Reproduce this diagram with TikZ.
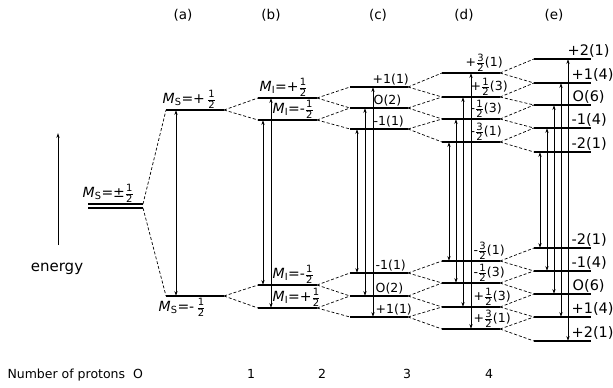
\documentclass[tikz,border=0pt]{standalone}
\usepackage{amsmath}
\usepackage{fontspec}
\setmainfont{DejaVu Sans}
\usetikzlibrary{arrows.meta}
\newcommand\hfr[1]{$\genfrac{}{}{0.4pt}{}{\text{\fontsize{10}{10}\selectfont #1}}{\text{\fontsize{10}{10}\selectfont 2}}$}
\newcommand\MSx[1]{\textit{M}$_{\text{S}}$=#1}
\newcommand\MIx[1]{\textit{M}$_{\text{I}}$=#1}
\newcommand\lev[4]{\coordinate (#1L) at (#2,#4); \coordinate (#1R) at (#3,#4); \draw[level] (#1L) -- (#1R);}
\tikzset{
  level/.style={line width=1.2pt},
  conn/.style={dash pattern=on 3pt off 2pt, line width=0.7pt},
  trans/.style={line width=0.8pt, {Stealth[length=5pt,width=3.2pt]}-{Stealth[length=5pt,width=3.2pt]}},
  lab/.style={anchor=south west, inner sep=0.5pt, font=\fontsize{12.5}{12.5}\selectfont},
  labm/.style={anchor=south west, inner sep=0.5pt, font=\fontsize{14}{14}\selectfont},
  labe/.style={anchor=south west, inner sep=0.5pt, font=\fontsize{14.5}{14.5}\selectfont},
  head/.style={font=\fontsize{13.5}{13.5}\selectfont},
  bottom/.style={anchor=base, font=\fontsize{12.5}{12.5}\selectfont}
}
\begin{document}
\begin{tikzpicture}[x=1pt,y=-1pt]
\useasboundingbox (0,0) rectangle (613,388);
% levels
\lev{a0a}{88}{143}{204}
\lev{a0b}{88}{143}{208}
\lev{aU}{166}{224}{110}
\lev{aD}{166}{224}{296}
\lev{bU1}{258}{317}{98}
\lev{bU2}{258}{317}{120}
\lev{bD1}{258}{317}{285}
\lev{bD2}{258}{317}{308}
\lev{cU1}{350}{408}{87}
\lev{cU2}{350}{408}{108}
\lev{cU3}{350}{408}{129}
\lev{cD1}{350}{408}{273}
\lev{cD2}{350}{408}{296}
\lev{cD3}{350}{408}{317}
\lev{dU1}{442}{500}{73}
\lev{dU2}{442}{500}{97}
\lev{dU3}{442}{500}{119}
\lev{dU4}{442}{500}{142}
\lev{dD1}{442}{500}{261}
\lev{dD2}{442}{500}{283}
\lev{dD3}{442}{500}{307}
\lev{dD4}{442}{500}{329}
\lev{eU1}{534}{591}{59}
\lev{eU2}{534}{591}{83}
\lev{eU3}{534}{591}{105}
\lev{eU4}{534}{591}{128}
\lev{eU5}{534}{591}{152}
\lev{eD1}{534}{591}{248}
\lev{eD2}{534}{591}{271}
\lev{eD3}{534}{591}{294}
\lev{eD4}{534}{591}{317}
\lev{eD5}{534}{591}{341}
% dashed connectors
\draw[conn] (a0aR) -- (aUL);
\draw[conn] (a0bR) -- (aDL);
\draw[conn] (aUR) -- (bU1L); \draw[conn] (aUR) -- (bU2L);
\draw[conn] (aDR) -- (bD1L); \draw[conn] (aDR) -- (bD2L);
\foreach \k [evaluate=\k as \m using int(\k+1)] in {1,2} {
  \draw[conn] (bU\k R) -- (cU\k L); \draw[conn] (bU\k R) -- (cU\m L);
  \draw[conn] (bD\k R) -- (cD\k L); \draw[conn] (bD\k R) -- (cD\m L);
}
\foreach \k [evaluate=\k as \m using int(\k+1)] in {1,2,3} {
  \draw[conn] (cU\k R) -- (dU\k L); \draw[conn] (cU\k R) -- (dU\m L);
  \draw[conn] (cD\k R) -- (dD\k L); \draw[conn] (cD\k R) -- (dD\m L);
}
\foreach \k [evaluate=\k as \m using int(\k+1)] in {1,2,3,4} {
  \draw[conn] (dU\k R) -- (eU\k L); \draw[conn] (dU\k R) -- (eU\m L);
  \draw[conn] (dD\k R) -- (eD\k L); \draw[conn] (dD\k R) -- (eD\m L);
}
% transitions
\draw[trans] ([xshift=10pt]aUL) -- ([xshift=10pt]aDL);
\draw[trans] ([xshift=5pt]bU2L) -- ([xshift=5pt]bD1L);
\draw[trans] ([xshift=13pt]bU1L) -- ([xshift=13pt]bD2L);
\draw[trans] ([xshift=7pt]cU3L) -- ([xshift=7pt]cD1L);
\draw[trans] ([xshift=15pt]cU2L) -- ([xshift=15pt]cD2L);
\draw[trans] ([xshift=23pt]cU1L) -- ([xshift=23pt]cD3L);
\draw[trans] ([xshift=7pt]dU4L) -- ([xshift=7pt]dD1L);
\draw[trans] ([xshift=14pt]dU3L) -- ([xshift=14pt]dD2L);
\draw[trans] ([xshift=21pt]dU2L) -- ([xshift=21pt]dD3L);
\draw[trans] ([xshift=29pt]dU1L) -- ([xshift=29pt]dD4L);
\draw[trans] ([xshift=6pt]eU5L) -- ([xshift=6pt]eD1L);
\draw[trans] ([xshift=13pt]eU4L) -- ([xshift=13pt]eD2L);
\draw[trans] ([xshift=20pt]eU3L) -- ([xshift=20pt]eD3L);
\draw[trans] ([xshift=27pt]eU2L) -- ([xshift=27pt]eD4L);
\draw[trans] ([xshift=34pt]eU1L) -- ([xshift=34pt]eD5L);
% energy axis
\coordinate (enB) at (58,245);
\coordinate (enT) at (58,133);
\draw[line width=0.8pt, -{Stealth[length=5pt,width=3.2pt]}] (enB) -- (enT);
\node[font=\fontsize{15}{15}\selectfont] (energy) at (57,269) {energy};
% column headers
\node[head] (ha) at (183,15) {(a)};
\node[head] (hb) at (271,15) {(b)};
\node[head] (hc) at (378,15) {(c)};
\node[head] (hd) at (464,15) {(d)};
\node[head] (he) at (554,15) {(e)};
% (a) labels
\node[labm] (la0) at (82,203) {\MSx{\textpm\hfr{1}}};
\node[labm] (laU) at (162,109) {\MSx{+\,\hfr{1}}};
\node[labm, anchor=north west] (laD) at (158,298) {\MSx{-\,\hfr{1}}};
% (b) labels
\node[labm] (lbU1) at (259,97) {\MIx{+\hfr{1}}};
\node[labm] (lbU2) at (272,119) {\MIx{-\hfr{1}}};
\node[labm] (lbD1) at (272,284) {\MIx{-\hfr{1}}};
\node[labm] (lbD2) at (272,307) {\MIx{+\hfr{1}}};
% (c) labels
\node[lab] (lcU1) at (372,86) {+1(1)};
\node[lab] (lcU2) at (373,107) {O(2)};
\node[lab] (lcU3) at (373,128) {-1(1)};
\node[lab] (lcD1) at (375,272) {-1(1)};
\node[lab] (lcD2) at (375,295) {O(2)};
\node[lab] (lcD3) at (375,316) {+1(1)};
% (d) labels
\node[lab] (ldU1) at (465,72) {+\hfr{3}(1)};
\node[lab] (ldU2) at (470,96) {+\hfr{1}(3)};
\node[lab] (ldU3) at (470,118) {-\hfr{1}(3)};
\node[lab] (ldU4) at (470,141) {-\hfr{3}(1)};
\node[lab] (ldD1) at (473,260) {-\hfr{3}(1)};
\node[lab] (ldD2) at (473,282) {-\hfr{1}(3)};
\node[lab] (ldD3) at (473,306) {+\hfr{1}(3)};
\node[lab] (ldD4) at (473,328) {+\hfr{3}(1)};
% (e) labels
\node[labe] (leU1) at (567,58) {+2(1)};
\node[labe] (leU2) at (571,82) {+1(4)};
\node[labe] (leU3) at (572,104) {O(6)};
\node[labe] (leU4) at (571,127) {-1(4)};
\node[labe] (leU5) at (571,151) {-2(1)};
\node[labe] (leD1) at (571,247) {-2(1)};
\node[labe] (leD2) at (571,270) {-1(4)};
\node[labe] (leD3) at (572,293) {O(6)};
\node[labe] (leD4) at (571,316) {+1(4)};
\node[labe] (leD5) at (571,340) {+2(1)};
% bottom row
\node[bottom, anchor=base west] (np) at (4,378) {Number of protons};
\node[bottom] (n0) at (138,378) {O};
\node[bottom] (n1) at (251,378) {1};
\node[bottom] (n2) at (322,378) {2};
\node[bottom] (n3) at (407,378) {3};
\node[bottom] (n4) at (489,378) {4};
\end{tikzpicture}
\end{document}
